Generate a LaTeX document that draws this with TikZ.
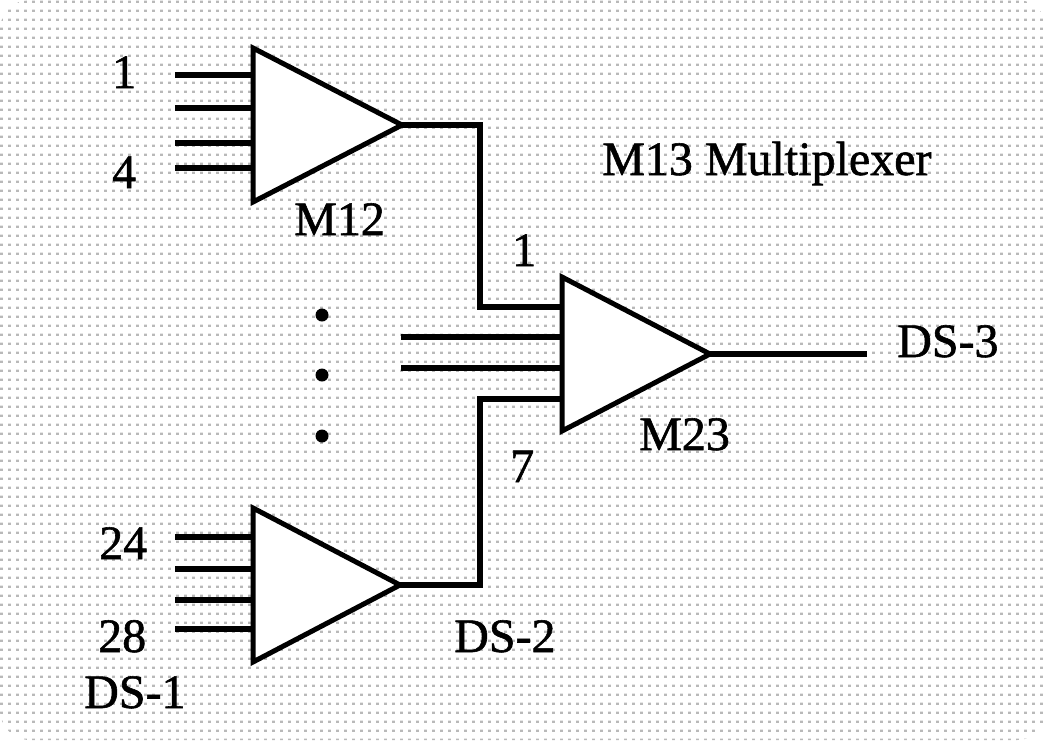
\documentclass[tikz,border=0pt]{standalone}
\usepackage{fontspec}
\setmainfont{Liberation Serif}[FakeBold=1.2]
\usetikzlibrary{patterns}
\pgfdeclarepatternformonly{bgdots}{\pgfpointorigin}{\pgfpoint{7.5pt}{9pt}}{\pgfpoint{7.5pt}{9pt}}{\pgfpathrectangle{\pgfpointorigin}{\pgfpoint{3pt}{2.5pt}}\pgfusepath{fill}}
\begin{document}
\begin{tikzpicture}[x=1pt,y=-1pt,
  wire/.style={line width=5.5pt},
  mux/.style={line width=5pt, fill=white, line join=miter},
  lbl/.style={anchor=base west, inner sep=0pt, font=\fontsize{48}{48}\selectfont},
  dotn/.style={circle, fill=black, inner sep=0pt, minimum size=13pt}]
\useasboundingbox (0,0) rectangle (1047,740);
\fill[pattern=bgdots, pattern color=gray!55, rounded corners=30pt] (0,0) rectangle (1047,740);
% mux vertices
\coordinate (A1) at (253,48);  \coordinate (A2) at (253,202); \coordinate (Atip) at (402,125);
\coordinate (B1) at (562,277); \coordinate (B2) at (562,431); \coordinate (Btip) at (710,354);
\coordinate (C1) at (253,508); \coordinate (C2) at (253,662); \coordinate (Ctip) at (400,585);
% input ends
\coordinate (a1) at (175,75);  \coordinate (a2) at (175,108); \coordinate (a3) at (175,143); \coordinate (a4) at (175,168);
\coordinate (c1) at (175,537); \coordinate (c2) at (175,569); \coordinate (c3) at (175,600); \coordinate (c4) at (175,629);
\coordinate (b2) at (401,337); \coordinate (b3) at (401,368);
\coordinate (jtop) at (480,307); \coordinate (jbot) at (480,399);
\coordinate (Bin1) at (562,307); \coordinate (Bin4) at (562,399);
\coordinate (out) at (867,354);
% wires
\foreach \p in {a1,a2,a3,a4}{\draw[wire] (\p) -- (\p -| A1);}
\foreach \p in {c1,c2,c3,c4}{\draw[wire] (\p) -- (\p -| C1);}
\foreach \p in {b2,b3}{\draw[wire] (\p) -- (\p -| B1);}
\draw[wire] (Atip) -| (jtop) -- (Bin1);
\draw[wire] (Ctip) -| (jbot) -- (Bin4);
\draw[wire] (Btip) -- (out);
% muxes
\draw[mux] (A1) -- (Atip) -- (A2) -- cycle;
\draw[mux] (B1) -- (Btip) -- (B2) -- cycle;
\draw[mux] (C1) -- (Ctip) -- (C2) -- cycle;
% dots
\node[dotn] (d1) at (322,315) {};
\node[dotn] (d2) at (322,375) {};
\node[dotn] (d3) at (322,436) {};
% labels
\node[lbl] (l1) at (112,88) {1};
\node[lbl] (l4) at (112,188) {4};
\node[lbl] (l24) at (99,559) {24};
\node[lbl] (l28) at (98,652) {28};
\node[lbl] (ds1) at (84,708) {DS-1};
\node[lbl] (m12) at (294,235) {M12};
\node[lbl] (n1) at (512,266) {1};
\node[lbl] (n7) at (510,482) {7};
\node[lbl] (ds2) at (454,652) {DS-2};
\node[lbl] (m23) at (639,450) {M23};
\node[lbl] (m13) at (602,175) {M13 Multiplexer};
\node[lbl] (ds3) at (897,357) {DS-3};
\end{tikzpicture}
\end{document}
